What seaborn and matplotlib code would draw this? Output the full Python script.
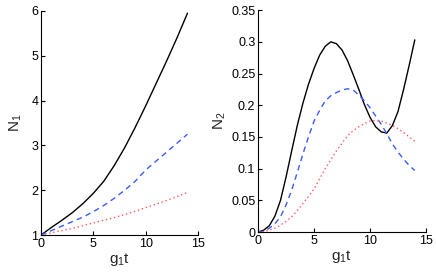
import numpy as np
import pandas as pd
import seaborn as sns
import matplotlib
matplotlib.use("Agg")
import matplotlib.pyplot as plt

# left panel, N1 vs g1 t
t_left = [0, 1, 2, 3, 4, 5, 6, 7, 8, 9, 10, 11, 12, 13, 14]
n1_black = [1.0, 1.17, 1.33, 1.5, 1.7, 1.93, 2.2, 2.55, 2.95, 3.4, 3.88, 4.38, 4.88, 5.4, 5.95]
n1_blue = [1.0, 1.1, 1.2, 1.3, 1.4, 1.52, 1.66, 1.82, 2.0, 2.2, 2.45, 2.65, 2.85, 3.05, 3.25]
n1_red = [1.0, 1.05, 1.1, 1.15, 1.21, 1.27, 1.33, 1.39, 1.46, 1.53, 1.61, 1.69, 1.77, 1.86, 1.95]

# right panel, N2 vs g1 t
t_right = [0, 0.5, 1, 1.5, 2, 2.5, 3, 3.5, 4, 4.5, 5, 5.5, 6, 6.5, 7, 7.5,
           8, 8.5, 9, 9.5, 10, 10.5, 11, 11.5, 12, 12.5, 13, 13.5, 14]
n2_black = [0, 0.003, 0.01, 0.025, 0.05, 0.087, 0.128, 0.168, 0.203, 0.233, 0.258,
            0.279, 0.293, 0.30, 0.297, 0.287, 0.27, 0.248, 0.225, 0.201, 0.181, 0.166,
            0.158, 0.156, 0.168, 0.19, 0.225, 0.263, 0.303]
n2_blue = [0, 0.001, 0.006, 0.013, 0.024, 0.043, 0.066, 0.094, 0.123, 0.15, 0.175,
           0.192, 0.207, 0.215, 0.22, 0.224, 0.226, 0.224, 0.216, 0.207, 0.196,
           0.183, 0.17, 0.155, 0.139, 0.126, 0.115, 0.105, 0.097]
n2_red = [0, 0.001, 0.003, 0.006, 0.011, 0.017, 0.024, 0.034, 0.045, 0.056, 0.068,
          0.084, 0.1, 0.114, 0.128, 0.14, 0.152, 0.16, 0.166, 0.171, 0.175, 0.176,
          0.175, 0.172, 0.168, 0.163, 0.157, 0.15, 0.143]

sns.set_style("ticks")
plt.rcParams['font.family'] = ['Liberation Sans', 'DejaVu Sans']
plt.rcParams['mathtext.default'] = 'regular'
plt.rcParams['xtick.direction'] = 'in'
plt.rcParams['ytick.direction'] = 'in'

fig = plt.figure(figsize=(4.36, 2.73), dpi=100)
ax1 = fig.add_axes([0.094, 0.139, 0.360, 0.821])
ax2 = fig.add_axes([0.592, 0.150, 0.385, 0.813])

styles = [("black", "-", 1.0), ("#3a5bff", (0, (4, 3)), 1.0), ("#ff5a5a", (0, (1, 2)), 1.0)]

left = pd.DataFrame({"t": t_left, "a": n1_black, "b": n1_blue, "c": n1_red})
right = pd.DataFrame({"t": t_right, "a": n2_black, "b": n2_blue, "c": n2_red})

for ax, df in [(ax1, left), (ax2, right)]:
    for col, (color, ls, lw) in zip(["a", "b", "c"], styles):
        sns.lineplot(data=df, x="t", y=col, ax=ax, color=color, linestyle=ls, linewidth=lw)

ax1.set_xlim(0, 15)
ax1.set_ylim(1, 6)
ax1.set_xticks([0, 5, 10, 15])
ax1.set_yticks([1, 2, 3, 4, 5, 6])
ax1.set_ylabel("N$_1$", fontsize=11, labelpad=5)

ax2.set_xlim(0, 15)
ax2.set_ylim(0, 0.35)
ax2.set_xticks([0, 5, 10, 15])
ax2.set_yticks([0, 0.05, 0.1, 0.15, 0.2, 0.25, 0.3, 0.35])
ax2.set_yticklabels(["0", "0.05", "0.1", "0.15", "0.2", "0.25", "0.3", "0.35"])
ax2.set_ylabel("N$_2$", fontsize=11, labelpad=2)

for ax in (ax1, ax2):
    ax.set_xlabel("g$_1$t", fontsize=11, labelpad=1)
    sns.despine(ax=ax)
    ax.tick_params(labelsize=9, length=3, width=0.8, pad=2, colors="black")
    for s in ("left", "bottom"):
        ax.spines[s].set_linewidth(0.8)
        ax.spines[s].set_color("black")

fig.savefig("out.png", dpi=100)
